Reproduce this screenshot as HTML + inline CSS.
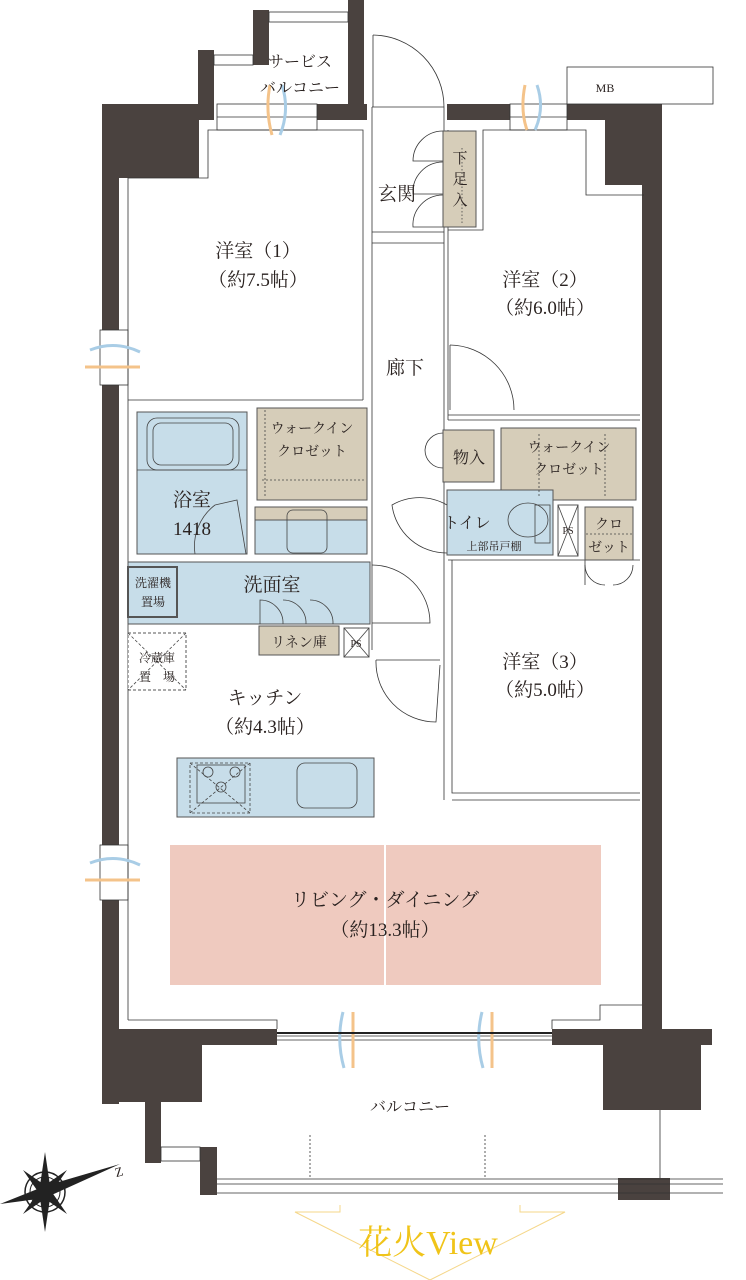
<!DOCTYPE html>
<html><head><meta charset="utf-8"><style>
html,body{margin:0;padding:0;background:#fff;}
svg{display:block;}
text{font-family:"Liberation Serif","Noto Serif CJK SC",serif;fill:#2a2220;}
</style></head><body>
<svg width="746" height="1280" viewBox="0 0 746 1280" xmlns="http://www.w3.org/2000/svg">
<g fill="#4a423f">
 <rect x="102" y="104" width="17" height="1000"/>
 <rect x="102" y="104" width="97" height="74"/>
 <rect x="198" y="50" width="16" height="70"/>
 <rect x="253" y="10" width="16" height="55"/>
 <rect x="348" y="0" width="16" height="120"/>
 <rect x="317" y="104" width="50" height="16"/>
 <rect x="447" y="104" width="63" height="16"/>
 <rect x="567" y="104" width="75" height="16"/>
 <rect x="605" y="104" width="37" height="81"/>
 <rect x="642" y="104" width="20" height="935"/>
 <rect x="103" y="1029" width="174" height="16"/>
 <rect x="103" y="1029" width="99" height="73"/>
 <rect x="145" y="1100" width="16" height="63"/>
 <rect x="200" y="1147" width="17" height="48"/>
 <rect x="552" y="1029" width="160" height="16"/>
 <rect x="603" y="1040" width="98" height="70"/>
 <rect x="618" y="1178" width="52" height="22"/>
</g>
<g fill="#fff" stroke="#333" stroke-width="0.8">
 <rect x="100" y="330" width="28" height="55"/>
 <rect x="100" y="845" width="28" height="55"/>
 <rect x="217" y="104" width="100" height="26"/>
 <rect x="510" y="104" width="57" height="26"/>
 <rect x="567" y="67" width="146" height="37"/>
 <rect x="214" y="55" width="39" height="10"/>
 <rect x="269" y="12" width="79" height="10"/>
</g>
<g stroke="#333" stroke-width="0.8" fill="none">
 <line x1="217" y1="117" x2="317" y2="117"/>
 <line x1="510" y1="117" x2="567" y2="117"/>
 <polyline points="128,1020 128,178 208,178 208,130 363,130 363,400"/>
 <line x1="128" y1="400" x2="363" y2="400"/>
 <line x1="372" y1="107" x2="372" y2="650"/>
 <line x1="444" y1="107" x2="444" y2="420"/>
 <line x1="448" y1="130" x2="448" y2="420"/>
 <line x1="372" y1="107" x2="444" y2="107"/>
 <line x1="372" y1="232" x2="444" y2="232"/>
 <line x1="372" y1="243" x2="444" y2="243"/>
 <polyline points="448,230 483,230 483,130 586,130 586,195 644,195"/>
 <line x1="448" y1="415" x2="640" y2="415"/>
 <line x1="448" y1="420" x2="640" y2="420"/>
 <line x1="373" y1="35" x2="373" y2="107"/>
 <path d="M373,35 A72,72 0 0 1 444,107"/>
 <path d="M450,345 A65,65 0 0 1 514,410"/>
 <line x1="450" y1="345" x2="450" y2="410"/>
 <path d="M443,131 A30,30 0 0 0 413,161 L443,161"/>
 <path d="M443,162 A30,30 0 0 0 413,194 L443,194"/>
 <path d="M443,195 A30,30 0 0 0 413,227 L443,227"/>
 <polyline points="452,560 452,793 640,793"/>
 <line x1="452" y1="800" x2="640" y2="800"/>
 <line x1="448" y1="560" x2="640" y2="560"/>
 <line x1="444" y1="420" x2="444" y2="800"/>
 <path d="M372,565 A58,58 0 0 1 430,623 L372,623"/>
 <path d="M376,660 A60,60 0 0 0 436,722 L440,665"/>
 <line x1="376" y1="660" x2="440" y2="660"/>
 <path d="M447,505 A55,55 0 0 0 392,505 A55,55 0 0 0 447,553"/>
 <path d="M443,433 A18,18 0 0 0 425,450 A18,18 0 0 0 443,468"/>
 <path d="M585,565 A20,20 0 0 0 605,585 M633,565 A20,20 0 0 1 613,585"/>
 <polyline points="585,560 585,585 M633,560 633,585"/>
 <polyline points="128,1020 277,1020 277,1029"/>
 <polyline points="552,1029 552,1020 600,1020 600,1005 642,1005"/>
 <line x1="277" y1="1036" x2="552" y2="1036"/>
 <line x1="277" y1="1040" x2="552" y2="1040"/>
 <line x1="217" y1="1179" x2="723" y2="1179"/>
 <line x1="217" y1="1184" x2="723" y2="1184"/>
 <line x1="217" y1="1193" x2="723" y2="1193"/>
 <line x1="660" y1="1110" x2="660" y2="1178"/>
 <line x1="310" y1="1135" x2="310" y2="1179" stroke-dasharray="2,2"/>
 <line x1="485" y1="1135" x2="485" y2="1179" stroke-dasharray="2,2"/>
 <rect x="161" y="1147" width="39" height="14" fill="#fff"/>
</g>
<g stroke="#555" stroke-width="1">
 <rect x="443" y="131" width="33" height="96" fill="#d6cdb9"/>
 <rect x="137" y="412" width="110" height="142" fill="#c7dde9"/>
 <rect x="257" y="408" width="110" height="92" fill="#d6cdb9"/>
 <rect x="255" y="507" width="112" height="47" fill="#c7dde9"/>
 <rect x="255" y="507" width="112" height="13" fill="#d6cdb9"/>
 <rect x="128" y="562" width="242" height="62" fill="#c7dde9"/>
 <rect x="128" y="567" width="49" height="50" fill="#c7dde9" stroke-width="2"/>
 <rect x="259" y="626" width="80" height="29" fill="#d6cdb9"/>
 <rect x="344" y="628" width="25" height="29" fill="#fff"/>
 <rect x="443" y="430" width="51" height="52" fill="#d6cdb9"/>
 <rect x="501" y="428" width="135" height="72" fill="#d6cdb9"/>
 <rect x="447" y="490" width="106" height="65" fill="#c7dde9"/>
 <rect x="558" y="505" width="20" height="51" fill="#fff"/>
 <rect x="585" y="507" width="48" height="53" fill="#d6cdb9"/>
 <rect x="177" y="758" width="197" height="59" fill="#c7dde9"/>
 <rect x="128" y="633" width="58" height="57" fill="#fff" stroke-dasharray="3,2"/>
</g>
<g stroke="#444" stroke-width="0.8" fill="none">
 <rect x="147" y="418" width="92" height="52" rx="10"/>
 <rect x="153" y="423" width="80" height="42" rx="8"/>
 <line x1="137" y1="470" x2="247" y2="470"/>
 <path d="M215,505 L237,500 L246,554 M195,554 A52,52 0 0 1 215,505"/>
 <line x1="344" y1="628" x2="369" y2="657"/><line x1="369" y1="628" x2="344" y2="657"/>
 <line x1="558" y1="505" x2="578" y2="556"/><line x1="578" y1="505" x2="558" y2="556"/>
 <line x1="128" y1="633" x2="186" y2="690" stroke-dasharray="3,2"/><line x1="186" y1="633" x2="128" y2="690" stroke-dasharray="3,2"/>
 <path d="M260,624 L260,600 A23,23 0 0 1 283,624 M283,600 A23,23 0 0 1 306,624 M310,600 A23,23 0 0 1 333,624"/>
 <rect x="287" y="510" width="40" height="43" rx="6"/>
 <rect x="297" y="763" width="60" height="45" rx="8"/>
 <rect x="190" y="763" width="60" height="50" stroke-dasharray="3,2"/>
 <line x1="190" y1="763" x2="250" y2="813" stroke-dasharray="3,2"/><line x1="250" y1="763" x2="190" y2="813" stroke-dasharray="3,2"/>
 <rect x="197" y="765" width="48" height="38"/>
 <circle cx="208" cy="772" r="5"/><circle cx="235" cy="772" r="5"/><circle cx="221" cy="787" r="5"/>
 <ellipse cx="528" cy="520" rx="20" ry="17"/>
 <rect x="535" y="505" width="15" height="38"/>
 <line x1="539" y1="434" x2="539" y2="497" stroke-dasharray="2,2"/>
 <line x1="605" y1="434" x2="605" y2="497" stroke-dasharray="2,2"/>
 <line x1="265" y1="410" x2="265" y2="498" stroke-dasharray="2,2"/>
 <line x1="262" y1="480" x2="365" y2="480" stroke-dasharray="2,2"/>
 <line x1="586" y1="534" x2="632" y2="534" stroke-dasharray="2,2"/>
 <line x1="462" y1="148" x2="462" y2="225" stroke-dasharray="1.5,2"/>
</g>
<rect x="170" y="845" width="431" height="140" fill="#efcabf"/>
<line x1="385" y1="845" x2="385" y2="985" stroke="#fff" stroke-width="2"/>
<g stroke-width="3" fill="none">
 <path d="M270,85 Q265,110 272,135" stroke="#f4c38a"/><path d="M282,85 Q290,110 280,135" stroke="#a9cde6"/>
 <path d="M525,85 Q520,110 527,130" stroke="#f4c38a"/><path d="M537,85 Q545,108 535,130" stroke="#a9cde6"/>
 <path d="M85,367 L140,367" stroke="#f4c38a"/><path d="M90,350 Q115,340 140,352" stroke="#a9cde6"/>
 <path d="M85,880 L140,880" stroke="#f4c38a"/><path d="M90,863 Q115,853 140,865" stroke="#a9cde6"/>
 <path d="M353,1012 L353,1068" stroke="#f4c38a"/><path d="M343,1012 Q336,1040 344,1068" stroke="#a9cde6"/>
 <path d="M492,1012 L492,1068" stroke="#f4c38a"/><path d="M482,1012 Q475,1040 483,1068" stroke="#a9cde6"/>
</g>
<line x1="277" y1="1033" x2="552" y2="1033" stroke="#222" stroke-width="2"/>
<g transform="translate(45,1192)">
 <circle r="20" fill="none" stroke="#222" stroke-width="1.5"/><circle r="15" fill="none" stroke="#222"/>
 <polygon points="0,-40 6,0 0,40 -6,0" fill="#222"/>
 <polygon points="-45,12 0,-6 75,-28 0,6" fill="#222"/>
 <polygon points="-22,-22 4,-4 22,22 -4,4" fill="#222"/>
 <polygon points="22,-22 4,4 -22,22 -4,-4" fill="#222"/>
</g>
<text x="115" y="1176" font-size="13" font-family="Liberation Sans, sans-serif" transform="rotate(-15 120 1172)">Z</text>
<g stroke="#f5d78a" stroke-width="1" fill="none">
 <polyline points="340,1205 340,1212 295,1212 430,1280 565,1212 520,1212 520,1205"/>
</g>
<text x="428" y="1254" font-size="34" text-anchor="middle" style="fill:#f0c419">花火View</text>
<g font-size="19" text-anchor="middle">
 <text x="258" y="257">洋室（1）</text><text x="258" y="286">（約7.5帖）</text>
 <text x="545" y="286">洋室（2）</text><text x="545" y="314">（約6.0帖）</text>
 <text x="545" y="668">洋室（3）</text><text x="545" y="696">（約5.0帖）</text>
 <text x="265" y="704">キッチン</text><text x="265" y="733">（約4.3帖）</text>
 <text x="385" y="906">リビング・ダイニング</text><text x="385" y="936">（約13.3帖）</text>
 <text x="397" y="200">玄関</text>
 <text x="405" y="374">廊下</text>
 <text x="192" y="506">浴室</text><text x="192" y="535">1418</text>
 <text x="272" y="591">洗面室</text>
 <text x="410" y="1112" font-size="16">バルコニー</text>
 <text x="300" y="67" font-size="16">サービス</text><text x="300" y="93" font-size="16">バルコニー</text>
</g>
<g font-size="14" text-anchor="middle">
 <text x="312" y="433">ウォークイン</text><text x="312" y="456">クロゼット</text>
 <text x="569" y="452">ウォークイン</text><text x="569" y="474">クロゼット</text>
 <text x="469" y="463" font-size="16">物入</text>
 <text x="467" y="528" font-size="16">トイレ</text>
 <text x="494" y="550" font-size="11">上部吊戸棚</text>
 <text x="609" y="529">クロ</text><text x="609" y="552">ゼット</text>
 <text x="299" y="647">リネン庫</text>
 <text x="153" y="587" font-size="12">洗濯機</text><text x="153" y="606" font-size="12">置場</text>
 <text x="157" y="662" font-size="12">冷蔵庫</text><text x="157" y="681" font-size="12">置　場</text>
 <text x="460" y="163" font-size="15">下</text><text x="460" y="184" font-size="15">足</text><text x="460" y="205" font-size="15">入</text>
 <text x="605" y="92" font-size="12">MB</text>
 <text x="356" y="647" font-size="10">PS</text>
 <text x="568" y="534" font-size="10">PS</text>
</g>
</svg>
</body></html>
